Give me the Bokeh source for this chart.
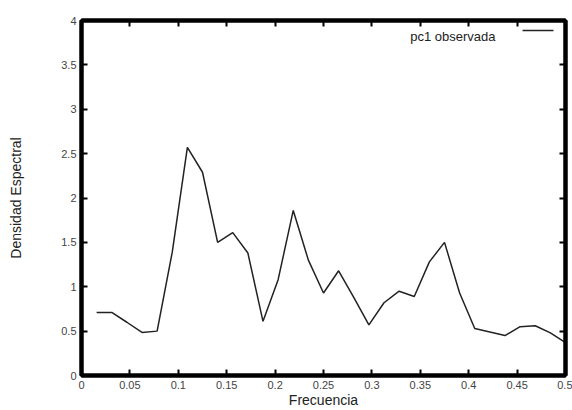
from bokeh.plotting import figure
from bokeh.models import Range1d, LinearAxis, FixedTicker, CustomJSTickFormatter, Label, Arrow
from bokeh.embed import file_html
from bokeh.resources import INLINE

# ---- data ----
frecuencia = [0.015625, 0.03125, 0.046875, 0.0625, 0.078125, 0.09375, 0.109375, 0.125,
              0.140625, 0.15625, 0.171875, 0.1875, 0.203125, 0.21875, 0.234375, 0.25,
              0.265625, 0.28125, 0.296875, 0.3125, 0.328125, 0.34375, 0.359375, 0.375,
              0.390625, 0.40625, 0.421875, 0.4375, 0.453125, 0.46875, 0.484375, 0.5]
densidad = [0.71, 0.71, 0.60, 0.485, 0.50, 1.39, 2.57, 2.29,
            1.50, 1.61, 1.38, 0.61, 1.08, 1.86, 1.30, 0.93,
            1.18, 0.88, 0.57, 0.82, 0.95, 0.89, 1.28, 1.50,
            0.93, 0.53, 0.49, 0.45, 0.55, 0.56, 0.48, 0.37]
x_ticks = [0, 0.05, 0.1, 0.15, 0.2, 0.25, 0.3, 0.35, 0.4, 0.45, 0.5]
y_ticks = [0, 0.5, 1, 1.5, 2, 2.5, 3, 3.5, 4]
serie_label = "pc1 observada"
x_label = "Frecuencia"
y_label = "Densidad Espectral"

FONT = "Liberation Sans"

p = figure(width=572, height=410, output_backend="svg", toolbar_location=None,
           x_range=Range1d(0, 0.5), y_range=Range1d(0, 4),
           min_border_left=81, min_border_right=7, min_border_top=20, min_border_bottom=35)
p.grid.visible = False
p.outline_line_color = "#000000"
p.outline_line_width = 4
p.background_fill_color = "white"
p.border_fill_color = "white"

fmt = CustomJSTickFormatter(code="return tick.toString();")
blank = CustomJSTickFormatter(code="return '';")

def style(ax, ticks, labels=True):
    ax.ticker = FixedTicker(ticks=ticks)
    ax.formatter = fmt if labels else blank
    ax.axis_line_color = "#000000"
    ax.axis_line_width = 4
    ax.major_tick_line_color = "#000000"
    ax.major_tick_line_width = 2
    ax.major_tick_in = 6
    ax.major_tick_out = 0
    ax.minor_tick_line_color = None
    ax.major_label_text_font = FONT
    ax.major_label_text_font_size = "11px"
    ax.major_label_text_color = "#444444"

xa = p.xaxis[0]
style(xa, x_ticks)
xa.major_label_standoff = 5
xa.axis_label = x_label
xa.axis_label_text_font = FONT
xa.axis_label_text_font_size = "14px"
xa.axis_label_text_font_style = "normal"
xa.axis_label_text_color = "#222222"
xa.axis_label_standoff = 0

ya = p.yaxis[0]
style(ya, y_ticks)
ya.major_label_standoff = 5
ya.axis_label = y_label
ya.axis_label_text_font = FONT
ya.axis_label_text_font_size = "14px"
ya.axis_label_text_font_style = "normal"
ya.axis_label_text_color = "#222222"
ya.axis_label_standoff = 34

top = LinearAxis()
style(top, x_ticks, labels=False)
top.major_label_standoff = 0
p.add_layout(top, "above")
right = LinearAxis()
style(right, y_ticks, labels=False)
right.major_label_standoff = 0
p.add_layout(right, "right")

p.line(frecuencia, densidad, line_color="#222222", line_width=1.5)

# gnuplot-style key: text then line sample
p.add_layout(Label(x=414, y=339, x_units="screen", y_units="screen", text=serie_label,
                   text_font=FONT, text_font_size="13px", text_color="#222222",
                   text_align="right", text_baseline="alphabetic"))
p.add_layout(Arrow(end=None, x_start=441, y_start=345, x_end=472, y_end=345,
                   start_units="screen", end_units="screen",
                   line_color="#222222", line_width=1.5))

open("out.html", "w").write(file_html(p, INLINE))
